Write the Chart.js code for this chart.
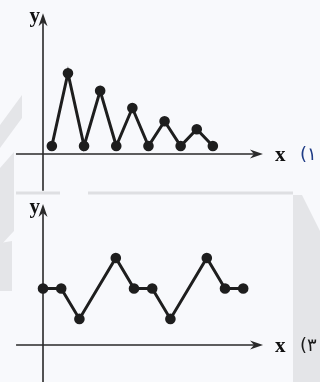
<!DOCTYPE html>
<html>
<head>
<meta charset="utf-8">
<script src="https://cdn.jsdelivr.net/npm/chart.js@4/dist/chart.umd.min.js"></script>
<style>
  html, body { margin: 0; padding: 0; background: #f8f9fc; }
  #wrap { position: relative; width: 320px; height: 382px; overflow: hidden; }
  canvas { position: absolute; left: 0; }
</style>
</head>
<body>
<div id="wrap">
  <canvas id="chartTop" width="320" height="191" style="top:0"></canvas>
  <canvas id="chartBottom" width="320" height="191" style="top:191px"></canvas>
</div>
<script>
// graph (1): decaying zig-zag
const topX = [0.55, 1.55, 2.55, 3.55, 4.55, 5.55, 6.55, 7.55, 8.55, 9.55, 10.55];
const topY = [1, 10.1, 1, 7.9, 1, 5.75, 1, 4.1, 1, 3.1, 1];

// graph (3): repeating pattern
const bottomX = [0, 1, 2, 4, 5, 6, 7, 9, 10, 11];
const bottomY = [6.5, 6.5, 3, 10, 6.5, 6.5, 3, 10, 6.5, 6.5];

const axisLabelX = 'x';
const axisLabelY = 'y';
const topTag = '(۱';
const bottomTag = '(۳';

function toPoints(xs, ys) {
    return xs.map((x, i) => ({ x: x, y: ys[i] }));
}

// arrow head like ">-"
function arrowHead(ctx, x, y, dir) {
    ctx.save();
    ctx.translate(x, y);
    ctx.rotate(dir);
    ctx.beginPath();
    ctx.moveTo(0, 0);
    ctx.lineTo(-13, -4.5);
    ctx.lineTo(-9, 0);
    ctx.lineTo(-13, 4.5);
    ctx.closePath();
    ctx.fill();
    ctx.restore();
}

// background watermark shapes (decoration only)
const watermark = {
    id: 'watermark',
    beforeDraw(chart, args, opts) {
        const ctx = chart.ctx;
        ctx.save();
        ctx.fillStyle = '#e4e5e8';
        (opts.shapes || []).forEach(s => {
            ctx.beginPath();
            s.forEach((p, i) => i ? ctx.lineTo(p[0], p[1]) : ctx.moveTo(p[0], p[1]));
            ctx.closePath();
            ctx.fill();
        });
        (opts.lines || []).forEach(l => {
            ctx.strokeStyle = '#dedfe2';
            ctx.lineWidth = 3;
            ctx.beginPath();
            ctx.moveTo(l[0], l[1]);
            ctx.lineTo(l[2], l[3]);
            ctx.stroke();
        });
        ctx.restore();
    }
};

// draw the x / y axes with arrows at value 0
const axes = {
    id: 'axes',
    beforeDatasetsDraw(chart, args, opts) {
        const ctx = chart.ctx;
        const xs = chart.scales.x, ys = chart.scales.y;
        const x0 = xs.getPixelForValue(0), y0 = ys.getPixelForValue(0);
        const xa = xs.getPixelForValue(opts.xFrom), xb = xs.getPixelForValue(opts.xTo);
        const ya = ys.getPixelForValue(opts.yFrom), yb = ys.getPixelForValue(opts.yTo);
        ctx.save();
        ctx.strokeStyle = '#2a2a2a';
        ctx.fillStyle = '#2a2a2a';
        ctx.lineWidth = 1.6;
        ctx.beginPath();
        ctx.moveTo(xa, y0);
        ctx.lineTo(xb - 8, y0);
        ctx.moveTo(x0, ya);
        ctx.lineTo(x0, yb + 8);
        ctx.stroke();
        arrowHead(ctx, xb, y0, 0);
        arrowHead(ctx, x0, yb, -Math.PI / 2);

        ctx.fillStyle = '#111';
        ctx.font = 'bold 21px "Liberation Serif", "DejaVu Serif", serif';
        ctx.textBaseline = 'alphabetic';
        ctx.textAlign = 'right';
        ctx.fillText(axisLabelY, x0 - 3, yb + 9);
        ctx.textAlign = 'left';
        ctx.fillText(axisLabelX, xb + 12, y0 + 7);

        ctx.font = '18px "DejaVu Sans", sans-serif';
        ctx.fillStyle = opts.tagColor;
        ctx.fillText(opts.tag, xb + 37, y0 + 6);
        ctx.restore();
    }
};

function makeChart(id, xs, ys, sc, ax, wm) {
    return new Chart(document.getElementById(id).getContext('2d'), {
        type: 'scatter',
        data: {
            datasets: [{
                data: toPoints(xs, ys),
                showLine: true,
                borderColor: '#1e1e1e',
                backgroundColor: '#1e1e1e',
                borderWidth: 3,
                pointRadius: 3.8,
                pointHoverRadius: 3.8,
                tension: 0
            }]
        },
        options: {
            responsive: false,
            animation: false,
            events: [],
            layout: { padding: 0, autoPadding: false },
            scales: {
                x: { type: 'linear', display: false, min: sc.xMin, max: sc.xMax },
                y: { type: 'linear', display: false, min: sc.yMin, max: sc.yMax }
            },
            plugins: {
                legend: { display: false },
                tooltip: { enabled: false },
                axes: ax,
                watermark: wm
            }
        },
        plugins: [watermark, axes]
    });
}

makeChart('chartTop', topX, topY,
    { xMin: -2.671, xMax: 17.205, yMin: -4.625, yMax: 19.25 },
    { xFrom: -1.68, xTo: 13.66, yFrom: -4.6, yTo: 17.6, tag: topTag, tagColor: '#1f3c86' },
    {
        shapes: [[[0, 125], [22, 95], [22, 118], [0, 148]], [[0, 168], [14, 152], [14, 191], [0, 191]]],
        lines: []
    });

makeChart('chartBottom', bottomX, bottomY,
    { xMin: -2.363, xMax: 15.22, yMin: -4.253, yMax: 17.70 },
    { xFrom: -1.48, xTo: 12.09, yFrom: -4.3, yTo: 16.2, tag: bottomTag, tagColor: '#1a1a1a' },
    {
        shapes: [
            [[0, 0], [14, 0], [14, 40], [0, 55]],
            [[0, 52], [12, 50], [12, 100], [0, 100]],
            [[293, 4], [302, 4], [320, 40], [320, 191], [293, 191]]
        ],
        lines: [[16, 2, 60, 2], [88, 2, 293, 2]]
    });
</script>
</body>
</html>
